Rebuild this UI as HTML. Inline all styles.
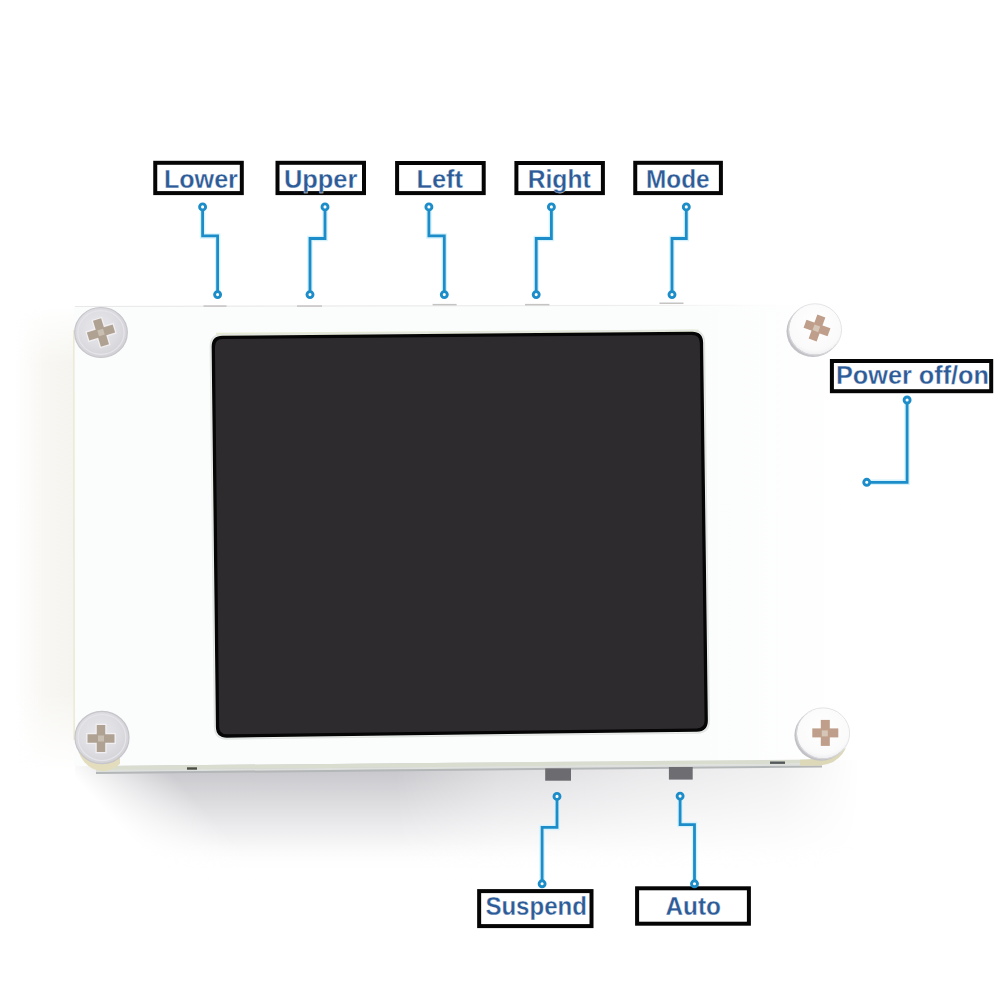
<!DOCTYPE html>
<html>
<head>
<meta charset="utf-8">
<style>
html,body{margin:0;padding:0;background:#ffffff;}
body{width:1000px;height:1000px;overflow:hidden;position:relative;}
svg{position:absolute;left:0;top:0;display:block;}
text{font-family:"Liberation Sans",sans-serif;font-weight:bold;fill:#2d5b97;font-size:25px;stroke:#ffffff;stroke-width:0.3px;}
</style>
</head>
<body>
<svg width="1000" height="1000" viewBox="0 0 1000 1000">
<defs>
  <linearGradient id="shadow" x1="0" y1="0" x2="0" y2="1">
    <stop offset="0" stop-color="#c4c4c8"/>
    <stop offset="0.12" stop-color="#cbcbcf"/>
    <stop offset="0.35" stop-color="#dcdcdf"/>
    <stop offset="0.55" stop-color="#ebebed"/>
    <stop offset="0.72" stop-color="#f7f7f8"/>
    <stop offset="0.85" stop-color="#fdfdfd" stop-opacity="0.5"/>
    <stop offset="1" stop-color="#ffffff" stop-opacity="0"/>
  </linearGradient>
  <linearGradient id="warm" x1="0" y1="0" x2="1" y2="0">
    <stop offset="0" stop-color="#f8f7f4" stop-opacity="0"/>
    <stop offset="0.5" stop-color="#f8f7f3"/>
    <stop offset="1" stop-color="#f5f4ef"/>
  </linearGradient>
  <linearGradient id="face" x1="74" y1="0" x2="850" y2="0" gradientUnits="userSpaceOnUse">
    <stop offset="0" stop-color="#fbfcfc"/>
    <stop offset="0.8" stop-color="#fbfcfc"/>
    <stop offset="1" stop-color="#ffffff"/>
  </linearGradient>
  <linearGradient id="topedge" x1="75" y1="0" x2="790" y2="0" gradientUnits="userSpaceOnUse">
    <stop offset="0" stop-color="#e8e8e8"/>
    <stop offset="0.8" stop-color="#eeeeee"/>
    <stop offset="1" stop-color="#ffffff"/>
  </linearGradient>
  <clipPath id="clipBL"><rect x="70" y="752" width="50" height="30"/></clipPath>
  <linearGradient id="mL" x1="95" y1="800" x2="150" y2="750" gradientUnits="userSpaceOnUse">
    <stop offset="0" stop-color="#000"/>
    <stop offset="1" stop-color="#fff"/>
  </linearGradient>
  <linearGradient id="mR" x1="60" y1="0" x2="860" y2="0" gradientUnits="userSpaceOnUse">
    <stop offset="0" stop-color="#fff"/>
    <stop offset="0.42" stop-color="#fff"/>
    <stop offset="0.55" stop-color="#a0a0a0"/>
    <stop offset="0.72" stop-color="#686868"/>
    <stop offset="0.9" stop-color="#404040"/>
    <stop offset="1" stop-color="#000"/>
  </linearGradient>
  <linearGradient id="mV" x1="0" y1="306" x2="0" y2="790" gradientUnits="userSpaceOnUse">
    <stop offset="0" stop-color="#000"/>
    <stop offset="0.12" stop-color="#fff"/>
    <stop offset="0.8" stop-color="#fff"/>
    <stop offset="0.96" stop-color="#000"/>
    <stop offset="1" stop-color="#000"/>
  </linearGradient>
  <mask id="shmaskL" maskUnits="userSpaceOnUse" x="0" y="700" width="1000" height="300">
    <rect x="0" y="700" width="1000" height="300" fill="url(#mL)"/>
  </mask>
  <mask id="shmaskR" maskUnits="userSpaceOnUse" x="0" y="700" width="1000" height="300">
    <rect x="0" y="700" width="1000" height="300" fill="url(#mR)"/>
  </mask>
  <mask id="warmmask" maskUnits="userSpaceOnUse" x="0" y="280" width="200" height="540">
    <rect x="0" y="290" width="200" height="520" fill="url(#mV)"/>
  </mask>
  <filter id="blur6" x="-20%" y="-50%" width="140%" height="200%"><feGaussianBlur stdDeviation="14 4"/></filter>
  <filter id="blur20" x="-50%" y="-50%" width="200%" height="200%"><feGaussianBlur stdDeviation="18"/></filter>
  <radialGradient id="screwG" cx="0.45" cy="0.42" r="0.6">
    <stop offset="0" stop-color="#e8e7eb"/>
    <stop offset="0.6" stop-color="#dedde2"/>
    <stop offset="1" stop-color="#d2d1d6"/>
  </radialGradient>
  <radialGradient id="screwW" cx="0.5" cy="0.4" r="0.6">
    <stop offset="0" stop-color="#ffffff"/>
    <stop offset="0.85" stop-color="#fbfafb"/>
    <stop offset="1" stop-color="#efeff1"/>
  </radialGradient>
</defs>

<!-- warm faint tint left of board -->
<rect x="15" y="306" width="59" height="500" fill="url(#warm)" mask="url(#warmmask)"/>

<!-- shadow below board -->
<g mask="url(#shmaskL)"><g mask="url(#shmaskR)">
  <rect x="75" y="760" width="785" height="120" fill="url(#shadow)"/>
</g></g>
<!-- board face -->
<polygon points="74,306.5 848,305 848,759.288 74,766.2539999999999" fill="url(#face)"/>

<!-- board edges -->
<line x1="75" y1="306.5" x2="790" y2="305.2" stroke="url(#topedge)" stroke-width="1.2"/>
<line x1="73.8" y1="330" x2="74.2" y2="740" stroke="#ecebd6" stroke-width="1.6"/>
<polygon points="96,766.0559999999999 822,759.5219999999999 822,763.5219999999999 96,770.0559999999999" fill="#d9ddcf"/>
<polygon points="96,770.0559999999999 822,763.5219999999999 822,765.5219999999999 96,772.0559999999999" fill="#dde0dc"/>
<polygon points="96,772.0559999999999 822,765.5219999999999 822,767.5219999999999 96,774.0559999999999" fill="#b4b7b8"/>
<g clip-path="url(#clipBL)"><ellipse cx="103" cy="740" rx="26.5" ry="31" fill="#e3ddbd"/></g>
<path d="M800,759.7199999999999 Q828,759.468 846,748 Q838,764 820,765.54 L800,765.7199999999999 Z" fill="#dcd8b8"/>
<rect x="187" y="767.3" width="10" height="2.4" fill="#4a4f46"/>
<rect x="770" y="761.5" width="15" height="2.4" fill="#55585a"/>

<!-- pale strip above screen -->
<polygon points="216,332.8 698,329.4 700,332 216,336" fill="#e9ecd0"/>

<!-- screen -->
<path d="M210.42,346.61 Q210.29,334.61 222.29,334.51 L692.19,330.49 Q704.18,330.39 704.33,342.39 L709.06,720.79 Q709.21,732.78 697.22,732.94 L226.81,738.86 Q214.81,739.02 214.68,727.02 Z" fill="none" stroke="#e2e6e2" stroke-width="1.6"/>
<path d="M211.62,346.80 Q211.50,335.80 222.50,335.71 L692.00,331.69 Q703.00,331.60 703.14,342.60 L707.86,720.60 Q708.00,731.60 697.00,731.74 L227.00,737.66 Q216.00,737.80 215.88,726.80 Z" fill="#060606"/>
<path d="M214.93,347.07 Q214.84,339.07 222.84,339.00 L691.74,335.00 Q699.74,334.93 699.84,342.93 L704.56,720.34 Q704.66,728.34 696.66,728.44 L227.26,734.36 Q219.26,734.46 219.17,726.46 Z" fill="#2e2b2f"/>

<!-- buttons -->
<rect x="545.2" y="768.4" width="25.8" height="12.3" fill="#6c6b6f"/>
<rect x="668.9" y="767" width="23.8" height="12.6" fill="#6e6d71"/>
<g fill="#c6c3c3">
<rect x="203.5" y="305.3" width="23" height="1.5"/>
<rect x="297" y="305.3" width="25" height="1.5"/>
<rect x="432.6" y="303.9" width="24" height="1.5"/>
<rect x="525" y="303.9" width="24.4" height="1.5"/>
<rect x="659.5" y="302.5" width="24" height="1.5"/>
</g>

<!-- screws -->
<g transform="translate(101,332.5)">
  <ellipse rx="26.3" ry="25" fill="url(#screwG)" stroke="#c6c5ca" stroke-width="1.2"/>
  <ellipse rx="23.1" ry="21.8" fill="none" stroke="#e6e5ea" stroke-width="1.2"/>
  <g transform="translate(0,0) rotate(-17)">
    <g fill="#f1eff2" stroke="#f1eff2" stroke-width="2.6"><rect x="-13.5" y="-4.25" width="27" height="8.5"/><rect x="-4.25" y="-13.5" width="8.5" height="27"/></g>
    <g fill="#b0a292"><rect x="-13.5" y="-4.25" width="27" height="8.5"/><rect x="-4.25" y="-13.5" width="8.5" height="27"/></g>
    <rect x="-3" y="-3" width="6" height="6" fill="#d0c6ba" opacity="0.8"/>
  </g>
</g>
<g transform="translate(102,737.5)">
  <ellipse rx="27" ry="26.2" fill="url(#screwG)" stroke="#c6c5ca" stroke-width="1.2"/>
  <ellipse rx="23.8" ry="23.0" fill="none" stroke="#e6e5ea" stroke-width="1.2"/>
  <g transform="translate(-1,1) rotate(0)">
    <g fill="#f1eff2" stroke="#f1eff2" stroke-width="2.6"><rect x="-13.5" y="-4.25" width="27" height="8.5"/><rect x="-4.25" y="-13.5" width="8.5" height="27"/></g>
    <g fill="#b0a292"><rect x="-13.5" y="-4.25" width="27" height="8.5"/><rect x="-4.25" y="-13.5" width="8.5" height="27"/></g>
    <rect x="-3" y="-3" width="6" height="6" fill="#d0c6ba" opacity="0.8"/>
  </g>
</g>
<g transform="translate(815,329.5)">
  <ellipse cx="-2.0" cy="1.8" rx="26.5" ry="25.7" fill="#c2c2c6"/>
  <ellipse rx="25.9" ry="25.099999999999998" fill="url(#screwW)"/>
  <ellipse rx="26.5" ry="25.7" fill="none" stroke="#dcdcdf" stroke-width="0.8"/>
  <g transform="translate(2,-1.5) rotate(20)">
    <g fill="#bf9f8b"><rect x="-12.75" y="-4.25" width="25.5" height="8.5"/><rect x="-4.25" y="-12.75" width="8.5" height="25.5"/></g>
    <rect x="-3.5" y="-2.5" width="6" height="6" fill="#dccfc2" opacity="0.8"/>
  </g>
</g>
<g transform="translate(823,733.4)">
  <ellipse cx="-2.0" cy="1.8" rx="26.6" ry="25.5" fill="#c2c2c6"/>
  <ellipse rx="26.0" ry="24.9" fill="url(#screwW)"/>
  <ellipse rx="26.6" ry="25.5" fill="none" stroke="#dcdcdf" stroke-width="0.8"/>
  <g transform="translate(2.3,-0.5) rotate(0)">
    <g fill="#bf9f8b"><rect x="-13.0" y="-4.5" width="26" height="9"/><rect x="-4.5" y="-13.0" width="9" height="26"/></g>
    <rect x="-3.5" y="-2.5" width="6" height="6" fill="#dccfc2" opacity="0.8"/>
  </g>
</g>


<!-- label boxes -->
<g fill="#ffffff" stroke="#050505" stroke-width="4.0">
<rect x="155.25" y="162.80" width="86.55" height="30.30"/>
<rect x="277.50" y="162.80" width="86.50" height="30.30"/>
<rect x="397.10" y="163.00" width="86.60" height="30.10"/>
<rect x="516.40" y="163.00" width="86.50" height="30.10"/>
<rect x="635.25" y="162.80" width="85.65" height="30.30"/>
<rect x="831.90" y="361.00" width="159.30" height="30.20"/>
<rect x="479.15" y="891.10" width="112.35" height="35.00"/>
<rect x="637.10" y="888.30" width="111.80" height="35.40"/>
</g>

<!-- leader lines -->
<g fill="none" stroke="#d6f2fc" stroke-width="5.5">
<path d="M202.6,206.9 V235.9 H217.6 V294.6"/>
<path d="M325,206.9 V238.5 H310 V294.6"/>
<path d="M428.9,206.9 V235.9 H444.3 V294.6"/>
<path d="M551.4,206.9 V238.5 H536.2 V294.6"/>
<path d="M686.3,206.9 V238.5 H672 V294.6"/>
<path d="M907.1,400 V482.3 H866.75"/>
<path d="M557,796.4 V827.4 H542.1 V883.8"/>
<path d="M680.1,796.1 V824.6 H694.5 V883.8"/>
</g>
<g fill="none" stroke="#1c8dc8" stroke-width="2.8">
<path d="M202.6,206.9 V235.9 H217.6 V294.6"/>
<path d="M325,206.9 V238.5 H310 V294.6"/>
<path d="M428.9,206.9 V235.9 H444.3 V294.6"/>
<path d="M551.4,206.9 V238.5 H536.2 V294.6"/>
<path d="M686.3,206.9 V238.5 H672 V294.6"/>
<path d="M907.1,400 V482.3 H866.75"/>
<path d="M557,796.4 V827.4 H542.1 V883.8"/>
<path d="M680.1,796.1 V824.6 H694.5 V883.8"/>
</g>
<g fill="#ffffff" stroke="#1c8dc8" stroke-width="2.9">
<circle cx="202.6" cy="206.9" r="3.0"/><circle cx="217.6" cy="294.6" r="3.0"/><circle cx="325" cy="206.9" r="3.0"/><circle cx="310" cy="294.6" r="3.0"/><circle cx="428.9" cy="206.9" r="3.0"/><circle cx="444.3" cy="294.6" r="3.0"/><circle cx="551.4" cy="206.9" r="3.0"/><circle cx="536.2" cy="294.6" r="3.0"/><circle cx="686.3" cy="206.9" r="3.0"/><circle cx="672" cy="294.6" r="3.0"/><circle cx="907.1" cy="400" r="3.0"/><circle cx="866.75" cy="482.3" r="3.0"/><circle cx="557" cy="796.4" r="3.0"/><circle cx="542.1" cy="883.8" r="3.0"/><circle cx="680.1" cy="796.1" r="3.0"/><circle cx="694.5" cy="883.8" r="3.0"/>
</g>

<!-- label text -->
<text x="163.9" y="187.5" textLength="74" lengthAdjust="spacingAndGlyphs">Lower</text>
<text x="283.9" y="187.5" textLength="73.5" lengthAdjust="spacingAndGlyphs">Upper</text>
<text x="416.5" y="187.5" textLength="46.5" lengthAdjust="spacingAndGlyphs">Left</text>
<text x="527.7" y="187.5" textLength="63" lengthAdjust="spacingAndGlyphs">Right</text>
<text x="646.1" y="187.5" textLength="63.5" lengthAdjust="spacingAndGlyphs">Mode</text>
<text x="836" y="383.5" textLength="153" lengthAdjust="spacingAndGlyphs">Power off/on</text>
<text x="485.4" y="914.7" textLength="101.5" lengthAdjust="spacingAndGlyphs">Suspend</text>
<text x="665.4" y="914.5" textLength="55.5" lengthAdjust="spacingAndGlyphs">Auto</text>

</svg>
</body>
</html>
